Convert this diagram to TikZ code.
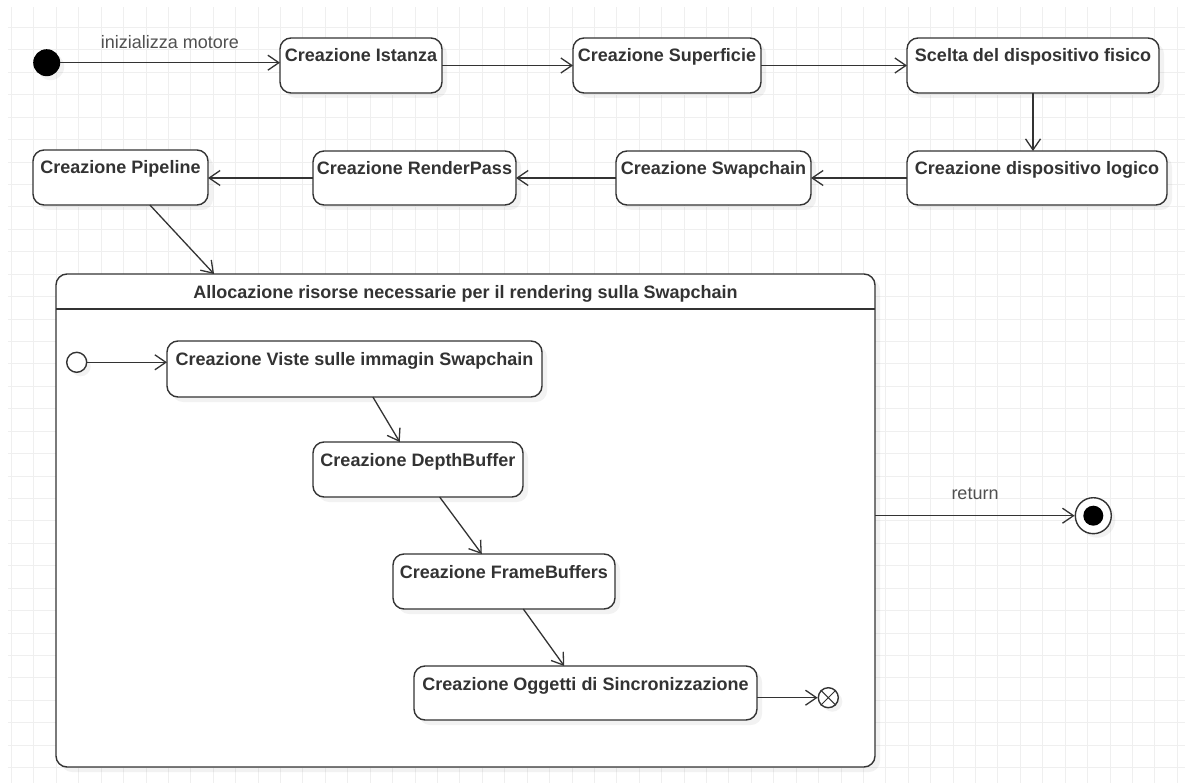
\documentclass[tikz,border=0pt]{standalone}
\usepackage{fontspec}
\setmainfont{Liberation Sans}
\usetikzlibrary{arrows.meta,shadows,calc}

\definecolor{ink}{HTML}{333333}
\definecolor{gridc}{HTML}{EFEFEF}
\definecolor{lbl}{HTML}{505050}

\tikzset{
  stbox/.style={draw=ink, line width=1.4pt, rounded corners=11pt, fill=white,
    anchor=north west, inner sep=0pt, outer sep=0pt,
    drop shadow={shadow xshift=5pt, shadow yshift=-5pt, opacity=0.10},
    font=\bfseries\fontsize{18pt}{21pt}\selectfont, text=ink},
  flow/.style={draw=ink, line width=1.3pt,
    -{Straight Barb[length=11pt,width=15pt,line width=1.3pt]}},
  elabel/.style={text=lbl, font=\fontsize{18pt}{21pt}\selectfont},
  gridline/.style={draw=gridc, line width=1pt},
  pseudo/.style={circle, draw=ink, fill=white, line width=1.4pt, inner sep=0pt,
    drop shadow={shadow xshift=4pt, shadow yshift=-4pt, opacity=0.10}},
}

% state box: name, x, y, width, height, title
\newcommand{\stbox}[6]{%
  \node[stbox] (#1) at (#2,#3)
    {\parbox[c][#5pt][t]{#4pt}{\centering\rule{0pt}{24pt}#6}};}

\begin{document}
\begin{tikzpicture}[x=1pt,y=-1pt]
\useasboundingbox (0,0) rectangle (1185,783);
\fill[white] (0,0) rectangle (1185,783);

% background grid
\begin{scope}
  \clip (8,8) rectangle (1185,783);
  \foreach \k in {0,...,52} {\draw[gridline] ({11.5+22.42*\k},0) -- ({11.5+22.42*\k},783);}
  \foreach \k in {0,...,34} {\draw[gridline] (0,{5+22.43*\k}) -- (1185,{5+22.43*\k});}
\end{scope}

% initial state
\node[circle, fill=black, minimum size=27pt, inner sep=0pt,
      drop shadow={shadow xshift=4pt, shadow yshift=-4pt, opacity=0.10}] (init) at (46.7,62.7) {};

% top-level states
\stbox{ist}{280}{38}{162}{55}{Creazione Istanza}
\stbox{sup}{573}{38}{188}{55}{Creazione Superficie}
\stbox{sce}{907}{38}{252}{55}{Scelta del dispositivo fisico}
\stbox{log}{907}{151}{260}{54}{Creazione dispositivo logico}
\stbox{swp}{616}{151}{195}{54}{Creazione Swapchain}
\stbox{rnd}{313}{151}{203}{54}{Creazione RenderPass}
\stbox{pip}{33}{150}{175}{55}{Creazione Pipeline}

% composite state
\stbox{comp}{56}{274}{819}{493}{Allocazione risorse necessarie per il rendering sulla Swapchain}
\draw[draw=ink, line width=1.4pt] ($(comp.north west)+(0,35)$) -- ($(comp.north east)+(0,35)$);

% inner states
\node[pseudo, minimum size=20pt] (ini2) at (76.7,362.3) {};
\stbox{vis}{167}{341}{375}{56}{Creazione Viste sulle immagin Swapchain}
\stbox{dep}{313}{442}{210}{55}{Creazione DepthBuffer}
\stbox{frm}{393}{554}{222}{55}{Creazione FrameBuffers}
\stbox{ogg}{414}{666}{343}{54}{Creazione Oggetti di Sincronizzazione}

% exit point
\node[pseudo, minimum size=20pt] (exit) at (828.3,697.7) {};
\draw[draw=ink, line width=1pt] (exit.north west) -- (exit.south east)
      (exit.north east) -- (exit.south west);

% final state
\node[pseudo, minimum size=36pt] (fin) at (1093.3,515.7) {};
\node[circle, fill=black, minimum size=20pt, inner sep=0pt] (fincore) at (fin) {};

% transitions
\draw[flow] (init) -- (init -| ist.west);
\node[elabel] (lab1) at (170,42) {inizializza motore};
\draw[flow] (ist.east) -- (sup.west);
\draw[flow] (sup.east) -- (sce.west);
\draw[flow] (sce.south) -- (sce.south |- log.north);
\draw[flow] (log.west) -- (swp.east);
\draw[flow] (swp.west) -- (rnd.east);
\draw[flow] (rnd.west) -- (rnd.west -| pip.east);
\draw[flow] ($(pip.south west)!0.668!(pip.south east)$) -- ($(comp.north west)!0.193!(comp.north east)$);

\draw[flow] (ini2) -- (ini2 -| vis.west);
\draw[flow] ($(vis.south west)!0.549!(vis.south east)$) -- ($(dep.north west)!0.413!(dep.north east)$);
\draw[flow] ($(dep.south west)!0.603!(dep.south east)$) -- ($(frm.north west)!0.40!(frm.north east)$);
\draw[flow] ($(frm.south west)!0.587!(frm.south east)$) -- ($(ogg.north west)!0.438!(ogg.north east)$);
\draw[flow] (ogg.east |- exit) -- (exit);

\draw[flow] (comp.east |- fin) -- (fin);
\node[elabel] (lab2) at (975,494) {return};
\end{tikzpicture}
\end{document}
